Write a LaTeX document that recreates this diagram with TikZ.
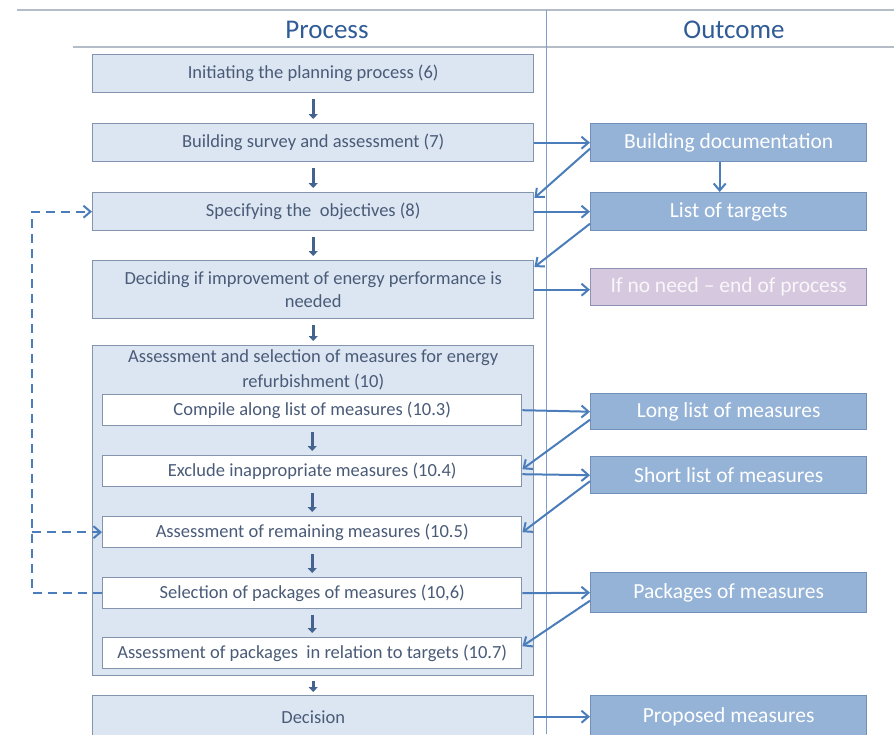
\documentclass[tikz,border=0pt]{standalone}
\usepackage{fontspec}
\setmainfont{Carlito}
\usetikzlibrary{arrows.meta,positioning,calc}
\definecolor{procfill}{HTML}{DCE6F2}
\definecolor{procdraw}{HTML}{8494AC}
\definecolor{proctext}{HTML}{4A5B78}
\definecolor{outfill}{HTML}{95B3D7}
\definecolor{outdraw}{HTML}{7090BA}
\definecolor{nofill}{HTML}{D6C8DE}
\definecolor{nodraw}{HTML}{8E90B4}
\definecolor{flow}{HTML}{4A7DBA}
\definecolor{stepcol}{HTML}{44638F}
\definecolor{headcol}{HTML}{2F5C97}
\definecolor{rulecol}{HTML}{B4BCC8}
\definecolor{divcol}{HTML}{7F9FCC}

\begin{document}
\begin{tikzpicture}[x=1pt, y=-1pt,
  procbox/.style={rectangle, draw=procdraw, line width=1.4pt, fill=procfill, text=proctext, minimum width=441pt, minimum height=38pt, anchor=north west, align=center, inner sep=0pt, font=\fontsize{18.5}{23}\selectfont},
  subbox/.style={procbox, fill=white, minimum width=419pt, minimum height=31pt},
  outbox/.style={rectangle, draw=outdraw, line width=1.4pt, fill=outfill, text=white, minimum width=276pt, minimum height=38pt, anchor=north west, inner sep=0pt, font=\fontsize{21.5}{26}\selectfont},
  colhead/.style={text=headcol, font=\fontsize{27}{32}\selectfont},
  steparrow/.style={draw=stepcol, line width=3.4pt, -{Triangle[length=5pt,width=9pt]}, shorten <=6pt, shorten >=4pt},
  flowarrow/.style={draw=flow, line width=2pt, -{Straight Barb[length=7pt,width=12pt]}},
  backlink/.style={flowarrow, dash pattern=on 9pt off 6pt}]
\clip (0,0) rectangle (894,734);
\draw[rulecol, line width=1.2pt] (17,10) -- (894,10);
\draw[rulecol, line width=1.2pt] (73,47) -- (894,47);
\draw[divcol, line width=0.9pt] (546,10) -- (546,734);
\node[colhead] (phead) at (327,30) {Process};
\node[colhead] (ohead) at (734,30) {Outcome};

\node[procbox] (init) at (92,54) {Initiating the planning process (6)};
\node[procbox] (survey) at (92,123) {Building survey and assessment (7)};
\node[procbox] (spec) at (92,192) {Specifying the\ \ objectives (8)};
\node[procbox, minimum height=58pt] (decide) at (92,260) {Deciding if improvement of energy performance is\\needed};
\node[procbox, minimum height=330pt] (assess) at (92,345) {};
\node[text=proctext, align=center, font=\fontsize{18.5}{25}\selectfont, below=1pt of assess.north] (assesshead) {Assessment and selection of measures for energy\\refurbishment (10)};
\node[subbox] (compile) at (102,394) {Compile along list of measures (10.3)};
\node[subbox] (exclude) at (102,455) {Exclude inappropriate measures (10.4)};
\node[subbox] (remain) at (102,516) {Assessment of remaining measures (10.5)};
\node[subbox] (select) at (102,577) {Selection of packages of measures (10,6)};
\node[subbox] (pkgcheck) at (102,637) {Assessment of packages\ \ in relation to targets (10.7)};
\node[procbox, minimum height=42pt] (decision) at (92,695) {Decision};

\node[outbox] (bdoc) at (590,123) {Building documentation};
\node[outbox] (targets) at (590,192) {List of targets};
\node[outbox, fill=nofill, draw=nodraw, text=white!85!nofill, minimum height=37pt] (noneed) at (590,268) {If no need -- end of process};
\node[outbox, minimum height=36pt] (longlist) at (590,393) {Long list of measures};
\node[outbox, minimum height=37pt] (shortlist) at (590,456) {Short list of measures};
\node[outbox, minimum height=40pt] (packages) at (590,572) {Packages of measures};
\node[outbox, minimum height=42pt] (proposed) at (590,695) {Proposed measures};

\draw[steparrow] (init) -- (survey);
\draw[steparrow] (survey) -- (spec);
\draw[steparrow] (spec) -- (decide);
\draw[steparrow] (decide) -- (assess);
\draw[steparrow] (compile) -- (exclude);
\draw[steparrow] (exclude) -- (remain);
\draw[steparrow] (remain) -- (select);
\draw[steparrow] (select) -- (pkgcheck);
\draw[steparrow, shorten <=5pt, shorten >=3pt] (assess) -- (decision);

\draw[flowarrow] (survey.east) -- (bdoc.west);
\draw[flowarrow] (spec.east) -- (targets.west);
\draw[flowarrow] (decide.east) -- (noneed.west |- decide.east);
\draw[flowarrow] (compile.east) -- (longlist.west);
\draw[flowarrow] ([yshift=-3pt]exclude.east) -- (shortlist.west);
\draw[flowarrow] (select.east) -- (packages.west);
\draw[flowarrow] (decision.east) -- (proposed.west);

\draw[flowarrow] ([xshift=-9pt]bdoc.south) -- ([xshift=-9pt]targets.north);
\draw[flowarrow] ([yshift=-6pt]bdoc.west) -- ([yshift=-6pt]spec.north east);
\draw[flowarrow] ([yshift=-12pt]targets.west) -- ([yshift=-7pt]decide.north east);
\draw[flowarrow] ([yshift=-8pt]longlist.west) -- ([yshift=2pt]exclude.east);
\draw[flowarrow] ([yshift=-6pt]shortlist.west) -- (remain.east);
\draw[flowarrow] ([yshift=-8pt]packages.west) -- ([yshift=7pt]pkgcheck.east);

\draw[backlink] (select.west) -- ++(-70,0) coordinate (loopcorner) |- (spec.west);
\draw[backlink] (loopcorner |- remain.west) -- (remain.west);
\end{tikzpicture}
\end{document}
